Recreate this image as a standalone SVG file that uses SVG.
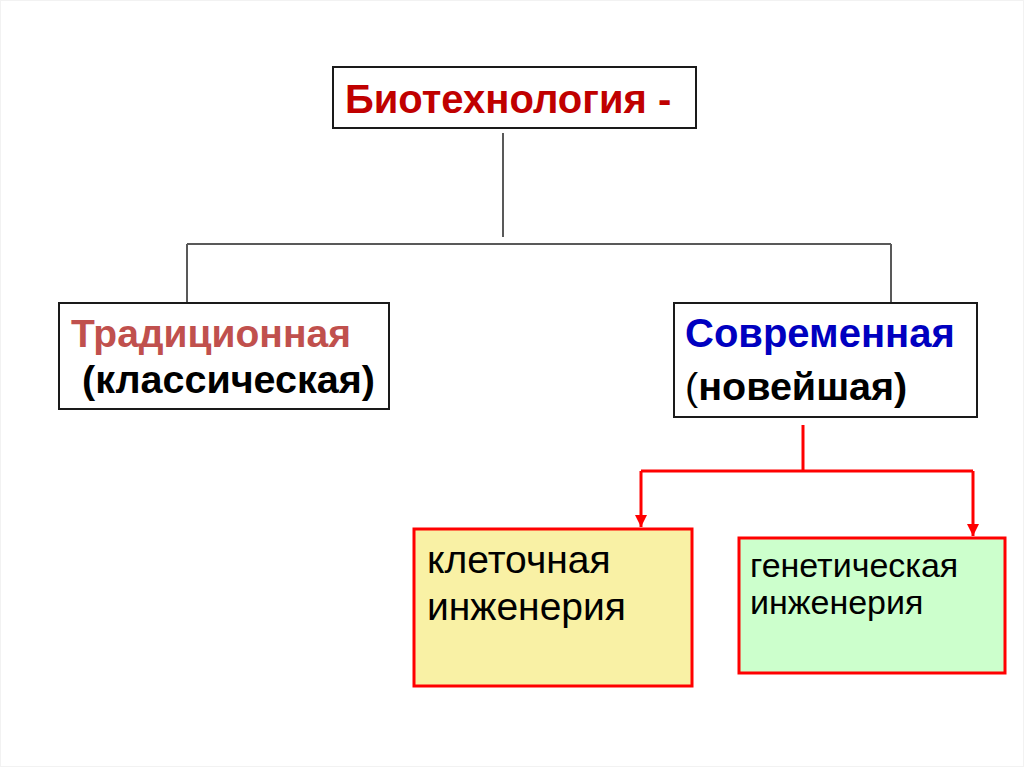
<svg xmlns="http://www.w3.org/2000/svg" width="1024" height="767" viewBox="0 0 1024 767">
<style>
.box{fill:#ffffff;stroke:#1a1a1a;stroke-width:2}
.sub{fill:#F9F1A5;stroke:#FF0000;stroke-width:3}
.sub2{fill:#CCFFCC;stroke:#FF0000;stroke-width:3}
.t{font-family:"Liberation Sans",Arial,sans-serif}
.b{font-weight:bold}
.gray{stroke:#595959;stroke-width:2;fill:none}
.red{stroke:#FF0000;stroke-width:3;fill:none}
</style>
<defs>
<marker id="ah" viewBox="0 0 10 10" refX="10" refY="5" markerWidth="4" markerHeight="4" markerUnits="strokeWidth" orient="auto">
<path d="M0,0 L10,5 L0,10 z" fill="#FF0000"/>
</marker>
</defs>
<rect x="0.5" y="0.5" width="1023" height="766" fill="#ffffff" stroke="#f2f2f2" stroke-width="1"/>
<g id="connectors">
<path class="gray" d="M503,133 V237"/>
<path class="gray" d="M187,244 H891"/>
<path class="gray" d="M187,244 V302"/>
<path class="gray" d="M891,244 V302"/>
<path class="red" d="M803,425 V471"/>
<path class="red" d="M641,471 H973"/>
<path class="red" d="M641,471 V527" marker-end="url(#ah)"/>
<path class="red" d="M973,471 V536" marker-end="url(#ah)"/>
</g>
<g id="biotech">
<rect class="box" x="333" y="67" width="363" height="61"/>
<text class="t b" x="345" y="113" font-size="40" fill="#C00000">Биотехнология -</text>
</g>
<g id="traditional">
<rect class="box" x="59" y="303" width="330" height="106"/>
<text class="t b" x="71" y="347" font-size="39" fill="#C0504D">Традиционная</text>
<text class="t b" x="82" y="393" font-size="39.5" fill="#000000">(классическая)</text>
</g>
<g id="modern">
<rect class="box" x="674" y="303" width="303" height="114"/>
<text class="t b" x="685" y="347" font-size="40" fill="#0000C0">Современная</text>
<text class="t" x="685" y="400" font-size="39.5" fill="#000000">(<tspan class="b">новейшая)</tspan></text>
</g>
<g id="cell">
<rect class="sub" x="414" y="529" width="278" height="157"/>
<text class="t" x="427" y="573" font-size="39" fill="#000000">клеточная</text>
<text class="t" x="427" y="620" font-size="39" fill="#000000">инженерия</text>
</g>
<g id="genetic">
<rect class="sub2" x="739" y="538" width="266" height="135"/>
<text class="t" x="750" y="577" font-size="34" fill="#000000">генетическая</text>
<text class="t" x="750" y="614" font-size="34" fill="#000000">инженерия</text>
</g>
</svg>
